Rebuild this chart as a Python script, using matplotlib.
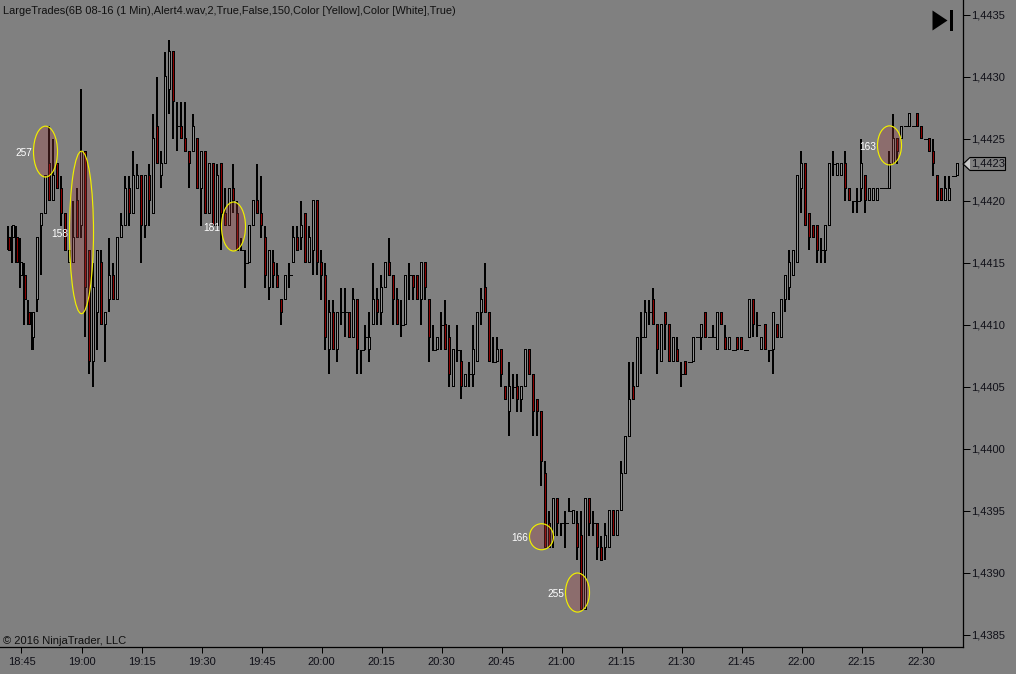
import matplotlib
matplotlib.use("Agg")
import matplotlib.pyplot as plt
from matplotlib.patches import Ellipse, Polygon, Rectangle
from matplotlib.ticker import FixedLocator, FuncFormatter

plt.rcParams['font.family'] = ['Liberation Sans', 'DejaVu Sans']

BASE = 14400  # prices below are offsets in ticks from 1.4400
# one string per bar: O H L C
bars_text = """
17 18 16 16
17 18 15 18
17 18 15 15
14 17 13 15
14 15 10 12
11 12 10 10
9 11 8 11
12 17 11 17
18 19 14 19
19 22 19 22
23 26 20 20
20 25 20 22
23 23 21 21
21 22 18 19
19 19 16 16
15 16 15 16
15 20 15 17
20 21 17 17
18 29 17 24
24 24 9 13
16 16 6 7
7 15 5 13
11 16 8 16
15 16 10 10
10 11 7 11
12 17 11 14
14 15 12 12
12 17 12 17
17 19 17 18
18 22 18 21
21 22 18 19
19 24 19 22
21 23 21 22
22 22 15 18
18 22 17 22
22 23 18 20
19 27 19 25
26 30 23 23
22 24 21 23
23 32 23 30
29 33 27 32
32 32 25 28
26 28 24 26
26 28 25 25
25 28 24 24
24 24 21 23
24 27 24 26
25 25 21 21
21 24 18 24
24 24 19 19
19 23 19 23
23 23 18 18
18 23 18 22
23 23 16 19
19 21 18 18
18 21 18 21
21 23 19 20
19 20 16 16
16 17 16 16
15 16 13 15
15 18 15 18
18 20 18 20
20 23 19 19
19 22 17 18
17 18 13 14
13 16 12 16
15 16 13 14
14 15 13 13
12 12 10 11
12 14 12 14
14 15 13 14
15 18 15 17
17 18 16 16
17 20 16 18
19 19 15 15
15 18 15 17
16 20 14 20
20 20 14 15
15 16 12 14
14 15 8 9
8 12 6 11
11 12 8 8
8 11 7 11
11 13 10 11
11 13 9 11
11 11 9 9
9 13 9 12
12 12 6 8
8 8 6 8
9 10 8 9
8 11 7 9
10 15 10 12
12 13 10 11
11 14 10 13
13 15 13 15
15 17 14 14
14 14 10 12
12 13 10 10
10 12 9 10
10 14 10 14
14 15 12 14
14 14 12 13
14 14 12 12
12 15 10 15
15 15 12 13
12 12 7 9
8 10 8 8
8 9 8 9
10 11 8 10
10 12 8 8
9 10 5 6
5 8 5 8
8 10 7 8
7 8 4 5
5 6 5 6
6 7 5 6
6 10 5 8
7 11 7 11
11 13 10 12
13 15 11 11
11 11 7 7
7 9 7 7
7 9 7 8
8 8 5 6
5 5 4 4
3 7 1 5
5 6 4 5
5 6 3 4
4 5 3 5
5 8 5 8
8 8 6 6
6 6 1 3
4 4 1 3
3 3 -3 -1
-2 -1 -8 -8
-6 -5 -8 -8
-7 -4 -8 -4
-4 -4 -7 -6
-6 -6 -7 -6
-6 -5 -8 -6
-5 -4 -5 -5
-6 -5 -6 -5
-6 -5 -9 -8
-7 -5 -13 -13
-13 -4 -13 -4
-4 -4 -7 -6
-6 -5 -7 -6
-6 -6 -9 -8
-8 -7 -9 -9
-8 -6 -9 -7
-8 -5 -8 -5
-5 -5 -7 -7
-7 -5 -7 -5
-5 -1 -5 -2
-2 1 -2 1
1 7 1 4
5 7 4 4
5 9 5 9
9 11 6 9
9 12 9 11
11 12 10 11
12 13 10 10
10 10 6 8
7 10 7 10
11 11 8 10
10 10 7 7
7 9 7 9
8 9 7 7
6 7 5 6
7 7 6 6
7 7 7 7
7 9 7 9
9 9 9 9
9 10 8 10
11 11 9 9
9 9 9 9
9 10 9 9
8 11 8 11
11 11 10 10
9 10 8 8
8 9 8 9
8 8 8 8
9 9 8 8
9 9 8 8
8 8 8 8
9 12 9 12
12 12 9 10
10 11 9 10
8 9 8 9
10 10 8 8
8 8 7 8
8 11 6 11
10 10 9 9
9 12 9 12
12 14 11 14
13 16 12 15
14 16 14 16
15 22 15 22
21 24 19 23
23 23 18 18
19 19 16 17
18 18 17 17
18 18 15 16
16 17 15 16
16 18 15 18
18 23 18 23
23 24 22 23
22 23 22 23
22 23 22 23
23 24 20 21
21 21 20 20
20 20 19 20
20 21 19 20
21 25 20 23
22 22 19 20
20 21 20 21
20 21 20 21
20 21 20 21
21 21 21 21
21 21 21 21
21 24 21 23
23 27 23 25
25 25 23 24
25 26 25 26
26 26 26 26
26 27 26 27
26 26 26 26
27 27 26 26
26 26 25 25
25 25 25 25
25 25 24 24
24 25 22 23
22 22 20 20
21 21 20 20
20 22 20 21
20 22 20 21
22 22 22 22
22 23 22 23
"""
rows = [[int(v) for v in line.split()] for line in bars_text.strip().splitlines()]
opens = [r[0] for r in rows]
highs = [r[1] for r in rows]
lows = [r[2] for r in rows]
closes = [r[3] for r in rows]
FIRST_MINUTE = -3  # first bar is 18:42; minutes relative to 18:45

time_labels = ['18:45','19:00','19:15','19:30','19:45','20:00','20:15','20:30','20:45',
               '21:00','21:15','21:30','21:45','22:00','22:15','22:30']
price_ticks = [-15, -10, -5, 0, 5, 10, 15, 20, 25, 30, 35]

trade_labels = ['257', '158', '181', '166', '255', '163']
trade_minutes = [6, 15, 53, 130, 139, 217]
trade_centers = [23.96, 17.44, 17.92, -7.1, -11.6, 24.46]
trade_heights = [4.1, 13.1, 3.95, 2.1, 3.15, 3.15]
last_price = 23

W, H = 1016, 674
fig = plt.figure(figsize=(W/100, H/100), dpi=100, facecolor='#808080')
AX_R, AX_B = 963.0, 647.0
ax = fig.add_axes([0, 1-AX_B/H, AX_R/W, AX_B/H], facecolor='#808080')

# pixel mapping: x = 21.5 + 4*minute ; y = 14.7 + 12.4*(35 - price)
Y_TOP = 14.7
ax.set_xlim(-21.5/4, (AX_R-21.5)/4)
ax.set_ylim(35 - (AX_B-Y_TOP)/12.4, 35 + Y_TOP/12.4)

PX_X = 0.25
PX_Y = 1/12.4
xs = [FIRST_MINUTE + i for i in range(len(rows))]
ax.bar([x-PX_X for x in xs], [h-l for h, l in zip(highs, lows)], bottom=lows, width=2*PX_X, color='black',
       zorder=2, antialiased=False, lw=0)
for x, o, c in zip(xs, opens, closes):
    if o == c:
        ax.hlines(o, x-0.5, x+0.5, color='black', lw=0.72, zorder=3, antialiased=False)
    else:
        lo, hi = min(o, c), max(o, c)
        ax.bar(x, hi-lo+PX_Y, bottom=lo-PX_Y/2, width=3*PX_X, color='black', lw=0, zorder=3, antialiased=False)
        ax.bar(x, hi-lo-PX_Y, bottom=lo+PX_Y/2, width=1*PX_X,
               color='#909090' if c > o else '#8B0000', lw=0, zorder=3.5, antialiased=False)

for lab, m, c, h in zip(trade_labels, trade_minutes, trade_centers, trade_heights):
    ax.add_patch(Ellipse((m, c), 6.0, h, facecolor='#A84444', alpha=0.3, edgecolor='none', zorder=4))
    ax.add_patch(Ellipse((m, c), 6.0, h, facecolor='none', edgecolor='#F0F000', lw=0.85, zorder=5))
    ax.annotate(lab, (m, c), xytext=(-15.5, -1), textcoords='offset points', color='white',
                fontsize=7.3, ha='center', va='center', zorder=6)

ax.spines['top'].set_visible(False)
ax.spines['left'].set_visible(False)
for s in ('right', 'bottom'):
    ax.spines[s].set_linewidth(0.9)
    ax.spines[s].set_color('black')
ax.yaxis.tick_right()
ax.xaxis.set_major_locator(FixedLocator([15*i for i in range(len(time_labels))]))
ax.xaxis.set_major_formatter(FuncFormatter(lambda v, p: time_labels[int(round(v/15))]))
ax.yaxis.set_major_locator(FixedLocator(price_ticks))
ax.yaxis.set_major_formatter(FuncFormatter(lambda v, p: f"{(BASE+v)/10000:.4f}".replace('.', ',')))
ax.tick_params(axis='x', length=4, width=0.72, pad=3.5, labelsize=8, labelcolor='#101018')
ax.tick_params(axis='y', length=5, width=0.72, pad=1.0, labelsize=8, labelcolor='#101018')

def px(x, y):
    return x/W, 1-y/H

fig.text(*px(3, 11.5), "LargeTrades(6B 08-16 (1 Min),Alert4.wav,2,True,False,150,Color [Yellow],Color [White],True)",
         fontsize=7.94, color='#101010', va='center', ha='left')
fig.text(*px(3, 641), "\u00a9 2016 NinjaTrader, LLC", fontsize=8, color='#101010', va='center', ha='left')

fig.add_artist(Polygon([px(932.5, 10.5), px(947.5, 20.5), px(932.5, 30.5)], closed=True,
                       transform=fig.transFigure, facecolor='black', edgecolor='none'))
x0, y0 = px(949.5, 30.5); x1, y1 = px(952.5, 10.5)
fig.add_artist(Rectangle((x0, y0), x1-x0, y1-y0, transform=fig.transFigure, facecolor='black', edgecolor='none'))

fig.add_artist(Polygon([px(963, 164), px(970, 157.5), px(1005.5, 157.5), px(1005.5, 170.5), px(970, 170.5)],
                       closed=True, transform=fig.transFigure, facecolor='#808080', edgecolor='black', lw=0.8, zorder=5))
fig.add_artist(Polygon([px(964.5, 164), px(970, 158.5), px(970, 169.5)], closed=True,
                       transform=fig.transFigure, facecolor='#C8C8C8', edgecolor='none', zorder=6))
fig.text(*px(971.5, 164), f"{(BASE+last_price)/10000:.4f}".replace('.', ','), fontsize=8, color='#101018',
         va='center', ha='left', zorder=7)

fig.savefig('out.png', dpi=100, facecolor=fig.get_facecolor())
